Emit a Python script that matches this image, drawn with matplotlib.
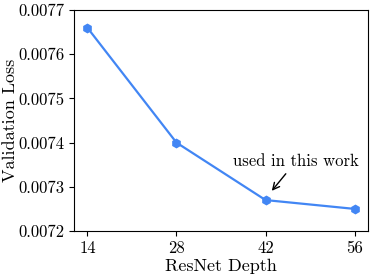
import matplotlib
matplotlib.use("Agg")
import matplotlib.pyplot as plt

# Datos
profundidad = [14, 28, 42, 56]
perdida_val = [0.00766, 0.00740, 0.00727, 0.00725]
yticks = [0.0072, 0.0073, 0.0074, 0.0075, 0.0076, 0.0077]

plt.rcParams['font.family'] = 'cmr10'
plt.rcParams['mathtext.fontset'] = 'cm'
plt.rcParams['axes.formatter.use_mathtext'] = True

fig = plt.figure(figsize=(3.74, 2.80), dpi=100)
ax = fig.add_axes([0.198, 0.175, 0.786, 0.789])

color = '#4286f4'
ax.plot(profundidad, perdida_val, color=color, linewidth=1.6, marker='h', markersize=6)

ax.set_xticks(profundidad)
ax.set_xticklabels([str(p) for p in profundidad])
ax.set_yticks(yticks)
ax.set_yticklabels([f"{v:.4f}" for v in yticks])
ax.set_ylim(0.0072, 0.0077)
ax.tick_params(labelsize=12)

ax.set_xlabel('ResNet Depth', fontsize=13, labelpad=2)
ax.set_ylabel('Validation Loss', fontsize=13, labelpad=0)

ax.annotate('used in this work', xy=(42.7, 0.007286), xytext=(46.8, 0.007358),
            ha='center', va='center', fontsize=12,
            arrowprops=dict(arrowstyle='->', color='black', lw=1.0))

fig.savefig('out.png', dpi=100)
